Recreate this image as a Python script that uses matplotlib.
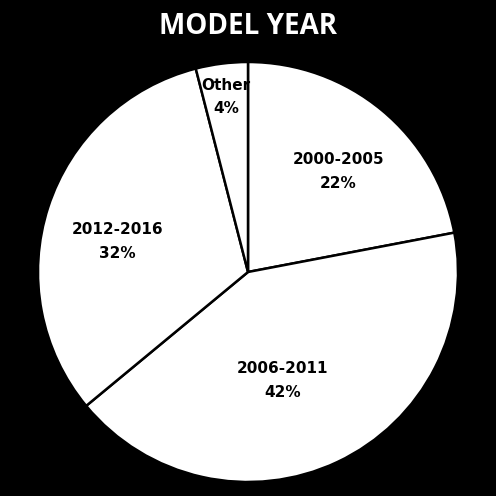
import matplotlib
matplotlib.use("Agg")
import matplotlib.pyplot as plt
import numpy as np

categories = ["2000-2005", "2006-2011", "2012-2016", "Other"]
values = [22, 42, 32, 4]
pct_labels = ["22%", "42%", "32%", "4%"]
title = "MODEL YEAR"

# label placement (radial distance, angle offset in degrees) relative to wedge mid-angle
label_dist = [0.66, 0.53, 0.64, 0.845]
label_shift = [-1, -7, 4, 0]
label_dy = [-0.022, -0.014, -0.01, -0.004]

fig = plt.figure(figsize=(4.96, 4.96), dpi=100, facecolor="black")
ax = fig.add_axes([38/496, 14/496, 420/496, 420/496])
ax.set_facecolor("black")

wedges, _ = ax.pie(values, startangle=90, counterclock=False, radius=1.0,
                   colors=["white"] * len(values),
                   wedgeprops=dict(edgecolor="black", linewidth=1.8))
ax.set_xlim(-1.0, 1.0)
ax.set_ylim(-1.0, 1.0)
ax.set_aspect("equal")
ax.axis("off")

for w, cat, pct, d, s, dy in zip(wedges, categories, pct_labels, label_dist, label_shift, label_dy):
    mid = np.deg2rad((w.theta1 + w.theta2) / 2 + s)
    x, y = d * np.cos(mid), d * np.sin(mid) + dy
    ax.text(x, y, f"{cat}\n{pct}", ha="center", va="center", fontsize=11,
            fontweight="bold", color="black", family="DejaVu Sans", linespacing=1.7)

fig.text(248/496, 1 - 26/496, title, ha="center", va="center", color="white",
         fontsize=20, fontweight="bold", family="Open Sans")

fig.savefig("out.png", dpi=100, facecolor="black")
